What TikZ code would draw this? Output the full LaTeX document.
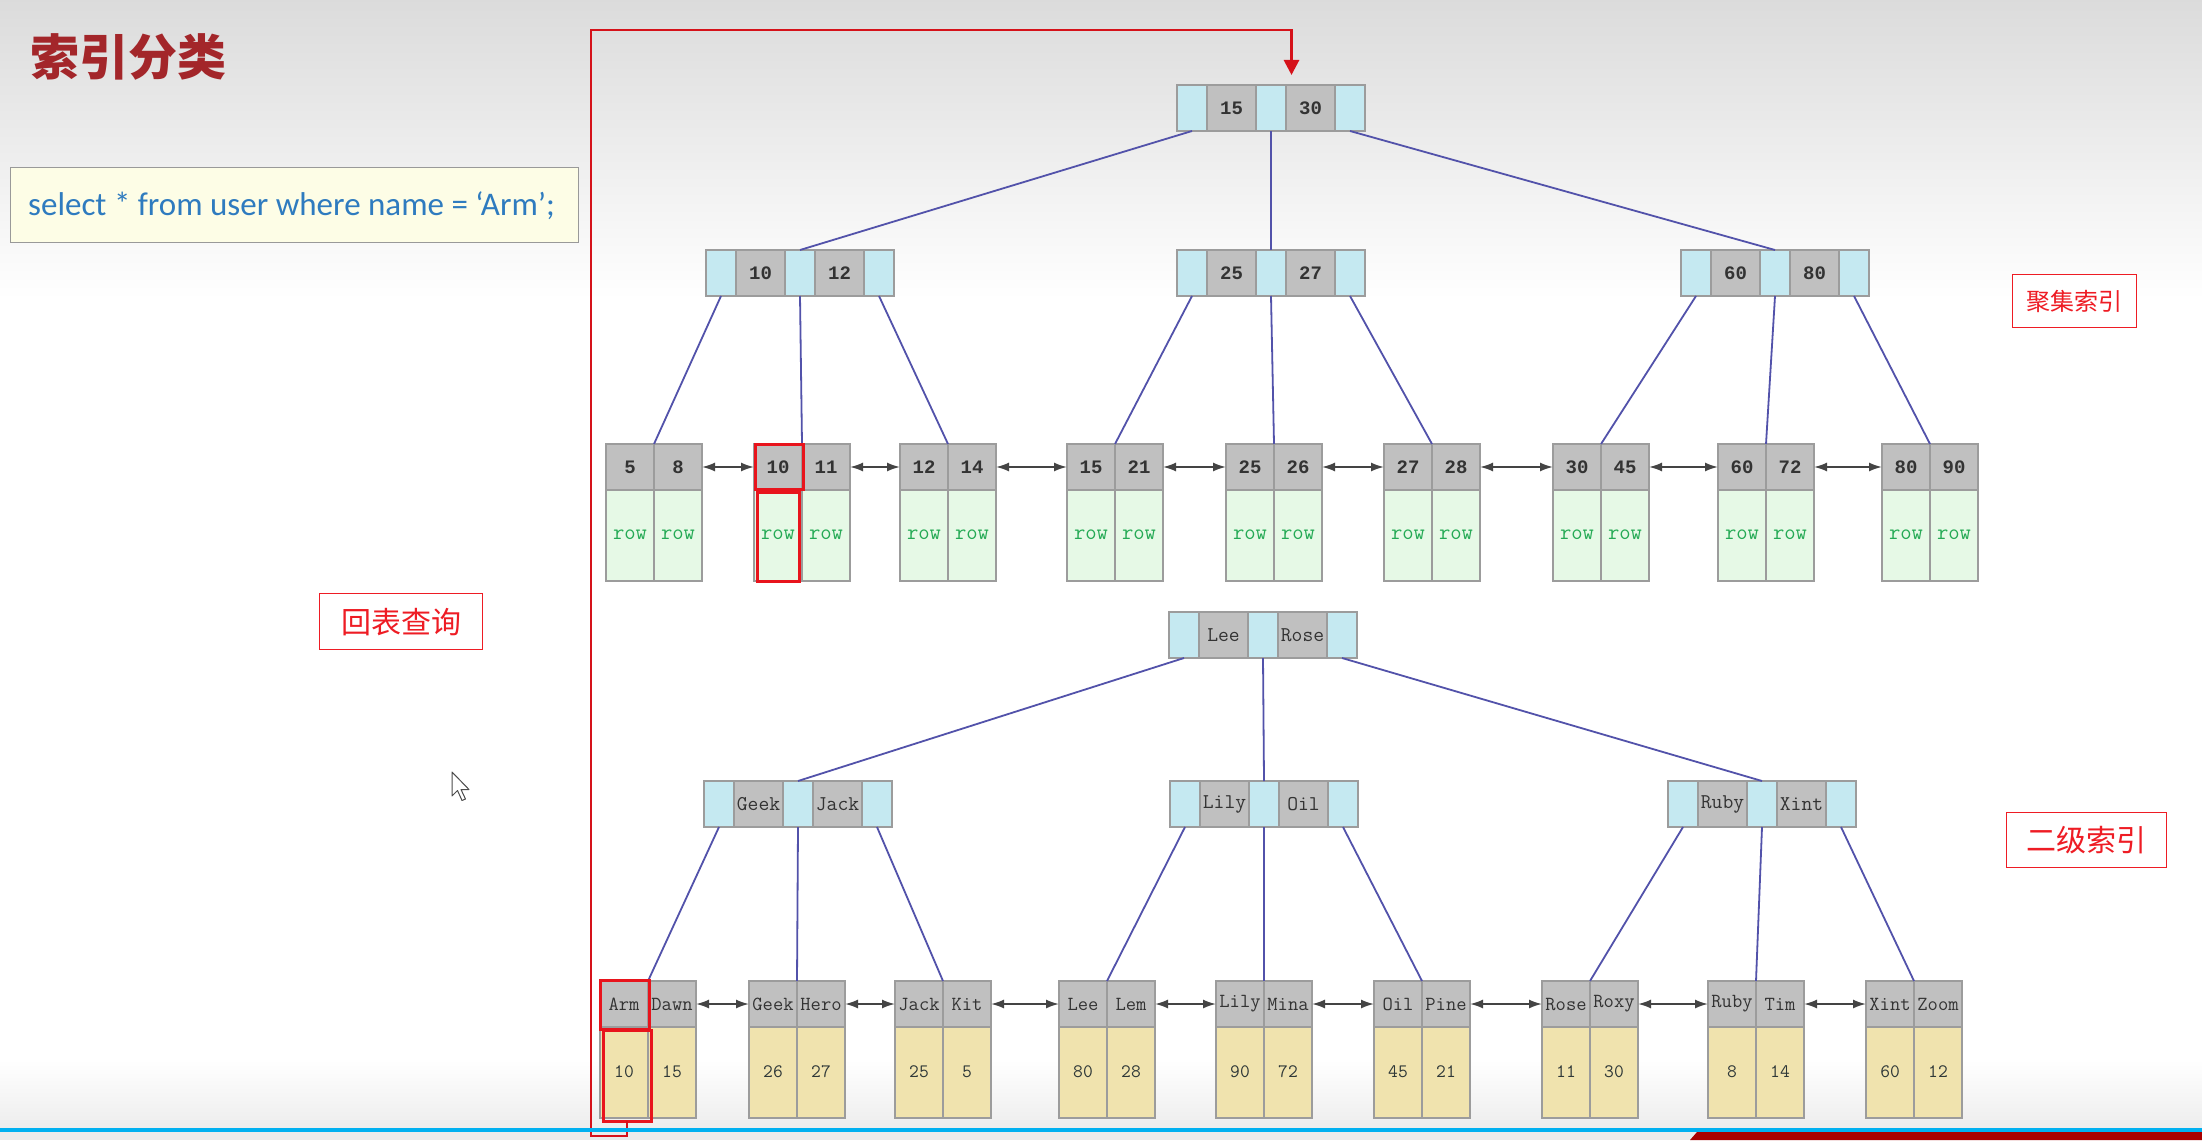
\documentclass[tikz,border=0pt]{standalone}
\usepackage{fontspec}
\setmainfont{Carlito}
\newfontfamily\cjk{Noto Sans CJK SC}
\newfontfamily\mono{Liberation Mono}
\usetikzlibrary{arrows.meta}

\definecolor{ptrblue}{HTML}{C5E9F1}
\definecolor{keygray}{HTML}{C0C0C0}
\definecolor{cellline}{HTML}{9C9C9C}
\definecolor{keytext}{HTML}{333333}
\definecolor{rowfill}{HTML}{E6F9E6}
\definecolor{rowtext}{HTML}{25AA55}
\definecolor{valfill}{HTML}{F0E3AE}
\definecolor{valtext}{HTML}{2F3838}
\definecolor{edgeblue}{HTML}{5252AA}
\definecolor{linkgray}{HTML}{444444}
\definecolor{hlred}{HTML}{E8141C}
\definecolor{titlered}{HTML}{A3262A}
\definecolor{labelred}{HTML}{EE1C24}
\definecolor{sqlfill}{HTML}{FDFDE6}
\definecolor{sqlblue}{HTML}{2E7BBF}
\definecolor{barblue}{HTML}{00B0F0}
\definecolor{barred}{HTML}{A80000}

\tikzset{
  cell/.style={draw=cellline, line width=1.2pt, inner sep=0pt, outer sep=0pt},
  ptr/.style={cell, fill=ptrblue, anchor=north west, minimum width=30pt, minimum height=46pt},
  key/.style={cell, fill=keygray, anchor=north west, minimum width=49pt, minimum height=46pt, text=keytext},
  numfont/.style={font=\mono\bfseries\fontsize{19}{19}\selectfont},
  namefont/.style={font=\ttfamily\fontsize{21}{21}\selectfont},
  leafname/.style={font=\ttfamily\fontsize{20}{20}\selectfont},
  lkey/.style={cell, fill=keygray, minimum width=48pt, minimum height=46pt, text=keytext},
  rowcell/.style={cell, fill=rowfill, minimum width=48pt, minimum height=91pt, text=rowtext,
    font=\ttfamily\fontsize{22}{22}\selectfont},
  valcell/.style={cell, fill=valfill, minimum width=48pt, minimum height=91pt, text=valtext,
    font=\ttfamily\fontsize{19}{19}\selectfont},
  edge/.style={draw=edgeblue, line width=1.8pt},
  link/.style={draw=linkgray, line width=1.8pt, {Latex[length=13pt,width=9pt]}-{Latex[length=13pt,width=9pt]}},
  hl/.style={draw=hlred, line width=3pt, inner sep=0pt, outer sep=0pt},
  redlabel/.style={draw=labelred, line width=1.3pt, fill=white, text=labelred, inner sep=0pt},
  backline/.style={draw=hlred!92!black, line width=2.8pt},
}

% internal B+tree node: name, left x, top y, key 1, key 2, key font
\newcommand\bnode[6]{%
  \node[ptr] (#1-p0) at (#2,#3) {};
  \node[key,#6] (#1-k1) at (#1-p0.north east) {#4};
  \node[ptr] (#1-p1) at (#1-k1.north east) {};
  \node[key,#6] (#1-k2) at (#1-p1.north east) {#5};
  \node[ptr] (#1-p2) at (#1-k2.north east) {};
}
% leaf node: name, split x, top y, key 1, key 2, value 1, value 2, key font, value style
\newcommand\bleaf[9]{%
  \node[lkey,#8,anchor=north east] (#1-a) at (#2,#3) {#4};
  \node[lkey,#8,anchor=north west] (#1-b) at (#2,#3) {#5};
  \node[#9,anchor=north] (#1-va) at (#1-a.south) {\raisebox{2pt}{#6}};
  \node[#9,anchor=north] (#1-vb) at (#1-b.south) {\raisebox{2pt}{#7}};
}

\begin{document}
\begin{tikzpicture}[x=1pt,y=-1pt]
\useasboundingbox (0,0) rectangle (2202,1140);

% slide background
\fill[white] (0,0) rectangle (2202,1140);
\fill[top color=black!14, bottom color=white] (0,0) rectangle (2202,300);
\fill[top color=white, bottom color=black!7] (0,1060) rectangle (2202,1128);
\fill[black!8] (0,1132) rectangle (2202,1140);
\fill[barred] (1690,1140) -- (1697,1132) -- (2202,1132) -- (2202,1140) -- cycle;

% title and query
\node[font=\cjk\bfseries\fontsize{49}{51}\selectfont, text=titlered, anchor=west, inner sep=0pt] (title) at (30,57) {索引分类};
\node[draw=black!40, line width=1pt, fill=sqlfill, anchor=north west, minimum width=568pt, minimum height=75pt, inner sep=0pt] (sql) at (10,167) {};
\node[anchor=west, inner sep=0pt, text=sqlblue, font=\fontsize{33}{35}\selectfont] (sqltext) at ([xshift=18pt,yshift=-1pt]sql.west) {select * from user where name = ‘Arm’;};

% clustered index
\bnode{R}{1177}{85}{15}{30}{numfont}
\bnode{A}{706}{250}{10}{12}{numfont}
\bnode{B}{1177}{250}{25}{27}{numfont}
\bnode{C}{1681}{250}{60}{80}{numfont}

\bleaf{L1}{654}{444}{5}{8}{row}{row}{numfont}{rowcell}
\bleaf{L2}{802}{444}{10}{11}{row}{row}{numfont}{rowcell}
\bleaf{L3}{948}{444}{12}{14}{row}{row}{numfont}{rowcell}
\bleaf{L4}{1115}{444}{15}{21}{row}{row}{numfont}{rowcell}
\bleaf{L5}{1274}{444}{25}{26}{row}{row}{numfont}{rowcell}
\bleaf{L6}{1432}{444}{27}{28}{row}{row}{numfont}{rowcell}
\bleaf{L7}{1601}{444}{30}{45}{row}{row}{numfont}{rowcell}
\bleaf{L8}{1766}{444}{60}{72}{row}{row}{numfont}{rowcell}
\bleaf{L9}{1930}{444}{80}{90}{row}{row}{numfont}{rowcell}

\draw[edge] (R-p0.south) -- (A-p1.north);
\draw[edge] (R-p1.south) -- (B-p1.north);
\draw[edge] (R-p2.south) -- (C-p1.north);
\draw[edge] (A-p0.south) -- (L1-a.north east);
\draw[edge] (A-p1.south) -- (L2-a.north east);
\draw[edge] (A-p2.south) -- (L3-a.north east);
\draw[edge] (B-p0.south) -- (L4-a.north east);
\draw[edge] (B-p1.south) -- (L5-a.north east);
\draw[edge] (B-p2.south) -- (L6-a.north east);
\draw[edge] (C-p0.south) -- (L7-a.north east);
\draw[edge] (C-p1.south) -- (L8-a.north east);
\draw[edge] (C-p2.south) -- (L9-a.north east);

\foreach \i/\j in {1/2,2/3,3/4,4/5,5/6,6/7,7/8,8/9}
  \draw[link] (L\i-b.east) -- (L\j-a.west);

% secondary index
\bnode{SR}{1169}{612}{Lee}{Rose}{namefont}
\bnode{SA}{704}{781}{Geek}{Jack}{namefont}
\bnode{SB}{1170}{781}{Lily}{Oil}{namefont}
\bnode{SC}{1668}{781}{Ruby}{Xint}{namefont}

\bleaf{S1}{648}{981}{Arm}{Dawn}{10}{15}{leafname}{valcell}
\bleaf{S2}{797}{981}{Geek}{Hero}{26}{27}{leafname}{valcell}
\bleaf{S3}{943}{981}{Jack}{Kit}{25}{5}{leafname}{valcell}
\bleaf{S4}{1107}{981}{Lee}{Lem}{80}{28}{leafname}{valcell}
\bleaf{S5}{1264}{981}{Lily}{Mina}{90}{72}{leafname}{valcell}
\bleaf{S6}{1422}{981}{Oil}{Pine}{45}{21}{leafname}{valcell}
\bleaf{S7}{1590}{981}{Rose}{Roxy}{11}{30}{leafname}{valcell}
\bleaf{S8}{1756}{981}{Ruby}{Tim}{8}{14}{leafname}{valcell}
\bleaf{S9}{1914}{981}{Xint}{Zoom}{60}{12}{leafname}{valcell}

\draw[edge] (SR-p0.south) -- (SA-p1.north);
\draw[edge] (SR-p1.south) -- (SB-p1.north);
\draw[edge] (SR-p2.south) -- (SC-p1.north);
\draw[edge] (SA-p0.south) -- (S1-a.north east);
\draw[edge] (SA-p1.south) -- (S2-a.north east);
\draw[edge] (SA-p2.south) -- (S3-a.north east);
\draw[edge] (SB-p0.south) -- (S4-a.north east);
\draw[edge] (SB-p1.south) -- (S5-a.north east);
\draw[edge] (SB-p2.south) -- (S6-a.north east);
\draw[edge] (SC-p0.south) -- (S7-a.north east);
\draw[edge] (SC-p1.south) -- (S8-a.north east);
\draw[edge] (SC-p2.south) -- (S9-a.north east);

\foreach \i/\j in {1/2,2/3,3/4,4/5,5/6,6/7,7/8,8/9}
  \draw[link] (S\i-b.east) -- (S\j-a.west);

% highlighted entries
\node[hl, anchor=north west, minimum width=48pt, minimum height=45pt] (hlkey) at ([xshift=1pt]L2-a.north west) {};
\node[hl, anchor=north west, minimum width=42pt, minimum height=89pt] (hlrow) at ([xshift=3pt,yshift=-2pt]L2-va.north west) {};
\node[hl, anchor=north west, minimum width=49pt, minimum height=49pt] (hlname) at ([yshift=1pt]S1-a.north west) {};
\node[hl, anchor=north west, minimum width=48pt, minimum height=91pt] (hlid) at ([xshift=3pt,yshift=-3pt]S1-va.north west) {};

% lookup back into the clustered index
\coordinate (turn) at (591,30);
\draw[backline, -{Triangle[length=15pt,width=15pt]}] (hlid.south) -- ++(0,15) -| (turn) -| ([xshift=-19pt,yshift=10pt]R-k2.north);

% labels
\node[redlabel, anchor=north west, minimum width=124pt, minimum height=53pt, font=\cjk\fontsize{24}{26}\selectfont] (clustered) at (2012,274) {聚集索引};
\node[redlabel, anchor=north west, minimum width=160pt, minimum height=55pt, font=\cjk\fontsize{30}{32}\selectfont] (secondary) at (2006,812) {二级索引};
\node[redlabel, anchor=north west, minimum width=163pt, minimum height=56pt, font=\cjk\fontsize{30}{32}\selectfont] (lookup) at (319,593) {回表查询};

% mouse pointer
\draw[fill=white, draw=black!70, line width=1pt, line join=round] (452,772) -- ++(0,24) -- ++(5.5,-5.5) -- ++(4.5,10) -- ++(3.5,-1.5) -- ++(-4.5,-9.5) -- ++(8,0) -- cycle;

% bottom bar
\fill[barblue] (0,1127.5) rectangle (2202,1132);
\end{tikzpicture}
\end{document}
